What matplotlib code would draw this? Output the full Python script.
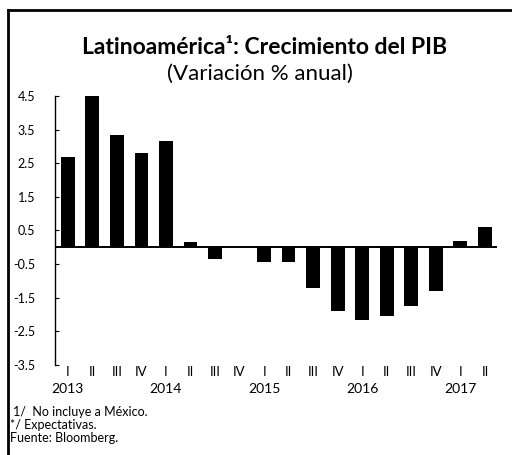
import matplotlib.pyplot as plt
import numpy as np
from matplotlib.transforms import blended_transform_factory

plt.rcParams['font.family'] = ['Lato', 'DejaVu Sans']

# datos: crecimiento del PIB, variacion % anual
trimestres = ['I', 'II', 'III', 'IV'] * 4 + ['I', 'II']
anios = ['2013', '2014', '2015', '2016', '2017']
valores = [2.7, 4.5, 3.35, 2.8, 3.15, 0.15, -0.35, 0.0,
           -0.45, -0.45, -1.2, -1.9, -2.15, -2.05, -1.75, -1.3,
           0.18, 0.6]
yticks = [-3.5, -2.5, -1.5, -0.5, 0.5, 1.5, 2.5, 3.5, 4.5]

fig = plt.figure(figsize=(5.12, 4.55), dpi=100)
ax = fig.add_axes([0.107, 0.198, 0.864, 0.591])

x = np.arange(len(valores))
ax.bar(x, valores, width=0.56, color='black')
ax.axhline(0, color='black', lw=1.4)

ax.set_ylim(-3.5, 4.5)
ax.set_xlim(-0.53, 17.5)
ax.set_yticks(yticks)
ax.set_yticklabels([str(v) for v in yticks], fontsize=9)
ax.tick_params(axis='y', direction='in', length=3, width=0.8, pad=14)
ax.set_xticks([])
for s in ['top', 'right', 'bottom']:
    ax.spines[s].set_visible(False)
ax.spines['left'].set_linewidth(1.0)

tr = blended_transform_factory(ax.transData, fig.transFigure)
for i, t in enumerate(trimestres):
    ax.text(i, 1 - 372 / 455, t, transform=tr, ha='center', va='center',
            fontsize=9.5)
for k, a in enumerate(anios):
    ax.text(k * 4, 1 - 389 / 455, a, transform=tr, ha='center', va='center',
            fontsize=10)

fig.text(0.517, 1 - 48 / 455, 'Latinoamérica¹: Crecimiento del PIB',
         ha='center', va='center', fontsize=16.5, fontweight='bold')
fig.text(0.508, 1 - 74 / 455, '(Variación % anual)', ha='center', va='center',
         fontsize=16)

fig.text(13 / 512, 1 - 412 / 455, '1/  No incluye a México.', fontsize=9,
         va='center')
fig.text(10 / 512, 1 - 425 / 455, '*/ Expectativas.', fontsize=9, va='center')
fig.text(10 / 512, 1 - 438 / 455, 'Fuente: Bloomberg.', fontsize=9,
         va='center')

# marco
fig.add_artist(plt.Line2D([8 / 512, 1], [1 - 10 / 455, 1 - 10 / 455],
                          color='black', lw=2, transform=fig.transFigure))
fig.add_artist(plt.Line2D([8 / 512, 8 / 512], [0, 1 - 10 / 455],
                          color='black', lw=2, transform=fig.transFigure))

fig.savefig('out.png', dpi=100)
